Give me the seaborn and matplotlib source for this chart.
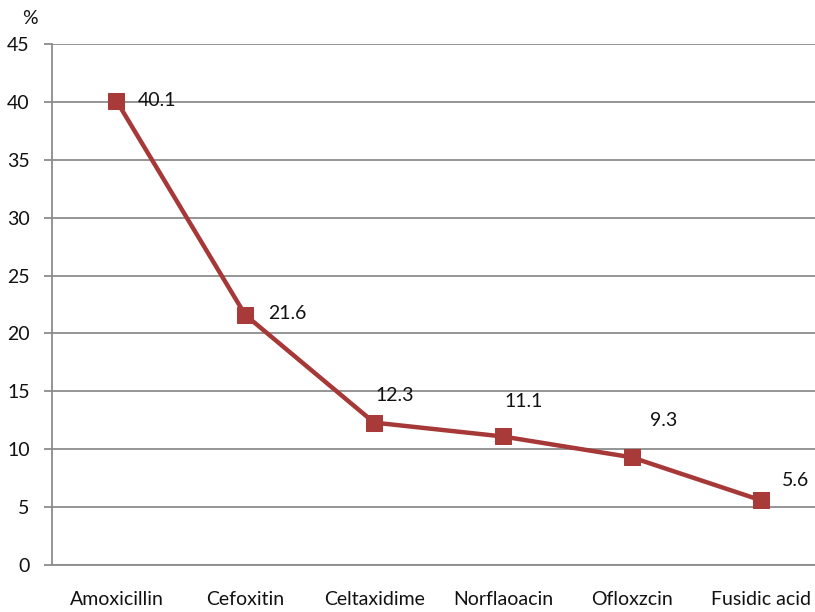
import matplotlib
matplotlib.use("Agg")
import matplotlib.pyplot as plt
import seaborn as sns
import pandas as pd

# Resistance rate per antibiotic (%)
drugs = ["Amoxicillin", "Cefoxitin", "Celtaxidime", "Norflaoacin", "Ofloxzcin", "Fusidic acid"]
rates = [40.1, 21.6, 12.3, 11.1, 9.3, 5.6]
y_ticks = [0, 5, 10, 15, 20, 25, 30, 35, 40, 45]

# label offsets (pixels) from each point, left-aligned text
label_offsets = [(21, 0), (23, 1), (1, 27), (2, 35), (18, 37), (21, 20)]

sns.set_theme(style="white")
plt.rcParams["font.family"] = ["Lato", "DejaVu Sans"]

df = pd.DataFrame({"drug": drugs, "rate": rates, "pos": range(len(drugs))})

fig = plt.figure(figsize=(8.15, 6.12), dpi=100)
ax = fig.add_axes([52 / 815, 47 / 612, 773 / 815, 521 / 612])

line_color = "#A63838"
sns.lineplot(data=df, x="pos", y="rate", ax=ax, color=line_color, linewidth=3.2,
             marker="s", markersize=11, markerfacecolor="#A93A3A",
             markeredgecolor="#A93A3A", zorder=3)

for i, (v, (dx, dy)) in enumerate(zip(rates, label_offsets)):
    ax.annotate(f"{v}", xy=(i, v), xytext=(dx * 0.72, dy * 0.72),
                textcoords="offset points", ha="left", va="center",
                fontsize=14, color="#111111", zorder=4)

ax.set_xlim(-0.5, len(drugs) - 0.5)
ax.set_ylim(0, 45)
ax.set_yticks(y_ticks)
ax.set_yticklabels([str(t) for t in y_ticks], fontsize=14, color="#111111")
ax.yaxis.grid(True, color="#8c8c8c", linewidth=1.3)
ax.set_axisbelow(True)

# category labels centered, tick marks on category boundaries
ax.set_xticks(range(len(drugs)))
ax.set_xticklabels(drugs, fontsize=14, color="#111111")
ax.tick_params(axis="x", which="major", length=0, pad=19)
ax.set_xticks([i - 0.5 for i in range(len(drugs) + 1)], minor=True)
ax.tick_params(axis="x", which="minor", length=5, width=1.3, color="#8c8c8c", direction="out")
ax.tick_params(axis="y", length=6, width=1.3, color="#8c8c8c", direction="out", pad=10, left=True)

for side in ["top", "right"]:
    ax.spines[side].set_visible(False)
for side in ["left", "bottom"]:
    ax.spines[side].set_color("#8c8c8c")
    ax.spines[side].set_linewidth(1.3)

ax.set_xlabel("")
ax.set_ylabel("")
fig.text(30 / 815, 1 - 18 / 612, "%", fontsize=14, ha="center", va="center", color="#111111")

fig.savefig("out.png", dpi=100)
